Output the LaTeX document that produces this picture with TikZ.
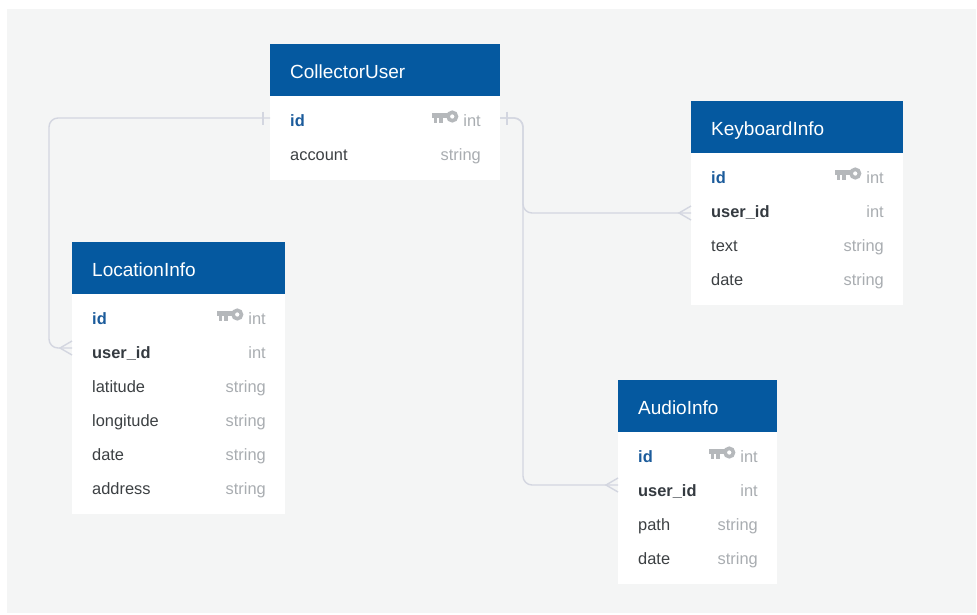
\documentclass[tikz,border=0pt]{standalone}
\usepackage{fontspec}
\setmainfont{Liberation Sans}
\usetikzlibrary{calc}

\definecolor{canvasgray}{HTML}{F4F5F5}
\definecolor{hdrblue}{HTML}{0559A0}
\definecolor{pkblue}{HTML}{1B5B9B}
\definecolor{fkdark}{HTML}{343A40}
\definecolor{coltxt}{HTML}{3C4043}
\definecolor{typegray}{HTML}{A9ADB1}
\definecolor{keygray}{HTML}{B5B8BB}
\definecolor{linegray}{HTML}{D3D6E0}

\tikzset{
  hdr/.style={fill=hdrblue, anchor=north west, inner sep=0pt, outer sep=0pt},
  bodybox/.style={fill=white, anchor=north west, inner sep=0pt, outer sep=0pt},
  htxt/.style={anchor=base west, inner sep=0pt, text=white, font=\fontsize{19}{21}\selectfont},
  fpk/.style={anchor=base west, inner sep=0pt, text=pkblue, font=\fontsize{16.4}{18}\selectfont\bfseries},
  ffk/.style={anchor=base west, inner sep=0pt, text=fkdark, font=\fontsize{16.4}{18}\selectfont\bfseries},
  fcol/.style={anchor=base west, inner sep=0pt, text=coltxt, font=\fontsize{16.4}{18}\selectfont},
  ftype/.style={anchor=base east, inner sep=0pt, text=typegray, font=\fontsize{16.4}{18}\selectfont},
  conn/.style={draw=linegray, line width=1.4pt},
  pkey/.pic={
    \fill[keygray] (-26,-3.8) rectangle (-8,1);
    \fill[keygray] (-24.5,0) rectangle (-21,6);
    \fill[keygray] (-19,0) rectangle (-15.5,6);
    \draw[keygray, line width=3.6pt] (-6,-0.5) circle[radius=4.2];
  }
}

% table frame: name, left x, top y, width, number of rows, title
\newcommand{\ertab}[6]{%
  \node[hdr, minimum width=#4pt, minimum height=52pt] (#1) at (#2,#3) {};
  \node[htxt] (#1-title) at ([xshift=20pt, yshift=-34pt]#1.north west) {#6};
  \node[bodybox, minimum width=#4pt, minimum height={\the\numexpr 16+34*#5\relax pt}] (#1-body) at (#1.south west) {};
}
% table row: table, row index, name style, field name, type
\newcommand{\errow}[5]{%
  \node[#3] (#1-r#2) at ([xshift=20pt, yshift={-(30.5pt+34pt*(#2-1))}]#1-body.north west) {#4};
  \node[ftype] (#1-t#2) at ([xshift=-19pt, yshift={-(30.5pt+34pt*(#2-1))}]#1-body.north east) {#5};
}

\begin{document}
\begin{tikzpicture}[x=1pt, y=-1pt]
  \useasboundingbox[fill=white] (0,0) rectangle (977,614);
  \fill[canvasgray] (7,9) rectangle (976,613);

  % tables
  \ertab{cu}{270}{44}{230}{2}{CollectorUser}
  \errow{cu}{1}{fpk}{id}{int}
  \errow{cu}{2}{fcol}{account}{string}
  \pic at ([xshift=-5pt, yshift=9.5pt]cu-t1.base west) {pkey};

  \ertab{kb}{691}{101}{212}{4}{KeyboardInfo}
  \errow{kb}{1}{fpk}{id}{int}
  \errow{kb}{2}{ffk}{user\_id}{int}
  \errow{kb}{3}{fcol}{text}{string}
  \errow{kb}{4}{fcol}{date}{string}
  \pic at ([xshift=-5pt, yshift=9.5pt]kb-t1.base west) {pkey};

  \ertab{li}{72}{242}{213}{6}{LocationInfo}
  \errow{li}{1}{fpk}{id}{int}
  \errow{li}{2}{ffk}{user\_id}{int}
  \errow{li}{3}{fcol}{latitude}{string}
  \errow{li}{4}{fcol}{longitude}{string}
  \errow{li}{5}{fcol}{date}{string}
  \errow{li}{6}{fcol}{address}{string}
  \pic at ([xshift=-5pt, yshift=9.5pt]li-t1.base west) {pkey};

  \ertab{au}{618}{380}{159}{4}{AudioInfo}
  \errow{au}{1}{fpk}{id}{int}
  \errow{au}{2}{ffk}{user\_id}{int}
  \errow{au}{3}{fcol}{path}{string}
  \errow{au}{4}{fcol}{date}{string}
  \pic at ([xshift=-5pt, yshift=9.5pt]au-t1.base west) {pkey};

  % connector end points
  \coordinate (cu-id-w) at ($(cu-body.north west)+(0,22)$);
  \coordinate (cu-id-e) at ($(cu-body.north east)+(0,22)$);
  \coordinate (li-uid-w) at ($(li-body.north west)+(0,54)$);
  \coordinate (kb-uid-w) at ($(kb-body.north west)+(0,60)$);
  \coordinate (au-uid-w) at ($(au-body.north west)+(0,53)$);

  % relations
  \draw[conn, rounded corners=9pt] (cu-id-w) -| ([xshift=-23pt]li-uid-w) -- (li-uid-w);
  \draw[conn, rounded corners=9pt] (cu-id-e) -| ([xshift=-168pt]kb-uid-w) -- (kb-uid-w);
  \draw[conn, rounded corners=9pt] (cu-id-e) -| ([xshift=-95pt]au-uid-w) -- (au-uid-w);

  % "one" ticks
  \draw[conn] ([xshift=-7pt, yshift=6.5pt]cu-id-w) -- ([xshift=-7pt, yshift=-6.5pt]cu-id-w);
  \draw[conn] ([xshift=7pt, yshift=6.5pt]cu-id-e) -- ([xshift=7pt, yshift=-6.5pt]cu-id-e);

  % "many" crow's feet
  \foreach \e in {li-uid-w, kb-uid-w, au-uid-w} {
    \draw[conn] ([yshift=7pt]\e) -- ([xshift=-12pt]\e) -- ([yshift=-7pt]\e);
  }
\end{tikzpicture}
\end{document}
